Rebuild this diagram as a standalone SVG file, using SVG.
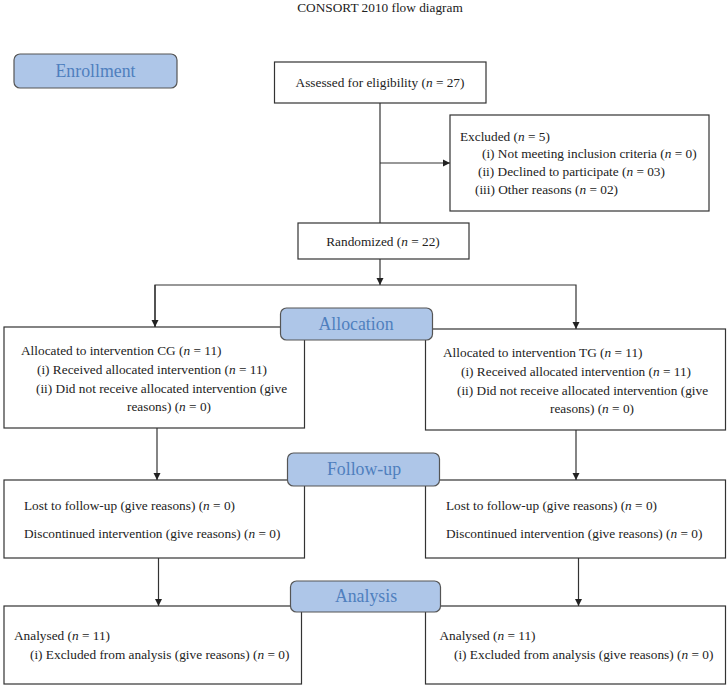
<svg xmlns="http://www.w3.org/2000/svg" width="727" height="685" viewBox="0 0 727 685">
<defs>
<marker id="ah" markerWidth="8" markerHeight="8" refX="7" refY="4" orient="auto" markerUnits="userSpaceOnUse">
<path d="M0,0.5 L7,4 L0,7.5 Z" fill="#222"/>
</marker>
<style>
.box{fill:#fff;stroke:#333;stroke-width:1.2}
.lab{fill:#aec6e8;stroke:#555;stroke-width:1.2}
.t{font-family:"Liberation Serif","Times New Roman",serif;font-size:13.3px;fill:#222}
.lt{font-family:"Liberation Serif","Times New Roman",serif;font-size:17.8px;fill:#4f7fbe;text-anchor:middle}
.c{fill:none;stroke:#333;stroke-width:1.2}
.i{font-style:italic}
</style>
</defs>
<rect width="727" height="685" fill="#fff"/>
<text class="t" x="380" y="12" text-anchor="middle" font-size="12.7">CONSORT 2010 flow diagram</text>

<g id="connectors">
<line class="c" x1="380" y1="103" x2="380" y2="223"/>
<line class="c" x1="380" y1="163" x2="450" y2="163" marker-end="url(#ah)"/>
<line class="c" x1="380" y1="259" x2="380" y2="285" marker-end="url(#ah)"/>
<polyline class="c" points="155,327 155,285 576,285 576,329" marker-end="url(#ah)"/>
<line class="c" x1="155" y1="285" x2="155" y2="327" marker-end="url(#ah)"/>
<line class="c" x1="157" y1="428" x2="157" y2="480" marker-end="url(#ah)"/>
<line class="c" x1="576" y1="430" x2="576" y2="480" marker-end="url(#ah)"/>
<line class="c" x1="158.5" y1="558" x2="158.5" y2="606" marker-end="url(#ah)"/>
<line class="c" x1="578.5" y1="558" x2="578.5" y2="606" marker-end="url(#ah)"/>
</g>

<g id="assessed">
<rect class="box" x="274.5" y="62" width="211.5" height="41"/>
<text class="t" x="380" y="87" text-anchor="middle">Assessed for eligibility (<tspan class="i">n</tspan> = 27)</text>
</g>
<g id="excluded">
<rect class="box" x="450" y="115" width="259" height="96"/>
<text class="t" x="460" y="141">Excluded (<tspan class="i">n</tspan> = 5)</text>
<text class="t" x="482" y="158">(i) Not meeting inclusion criteria (<tspan class="i">n</tspan> = 0)</text>
<text class="t" x="478" y="176">(ii) Declined to participate (<tspan class="i">n</tspan> = 03)</text>
<text class="t" x="475" y="194">(iii) Other reasons (<tspan class="i">n</tspan> = 02)</text>
</g>
<g id="randomized">
<rect class="box" x="298" y="223" width="171" height="36"/>
<text class="t" x="383" y="246" text-anchor="middle">Randomized (<tspan class="i">n</tspan> = 22)</text>
</g>
<g id="alloc-cg">
<rect class="box" x="4" y="327" width="300.5" height="101"/>
<text class="t" x="21" y="355">Allocated to intervention CG (<tspan class="i">n</tspan> = 11)</text>
<text class="t" x="37" y="374">(i) Received allocated intervention (<tspan class="i">n</tspan> = 11)</text>
<text class="t" x="36" y="393">(ii) Did not receive allocated intervention (give</text>
<text class="t" x="169" y="411" text-anchor="middle">reasons) (<tspan class="i">n</tspan> = 0)</text>
</g>
<g id="alloc-tg">
<rect class="box" x="425.5" y="329" width="300" height="101"/>
<text class="t" x="443" y="357">Allocated to intervention TG (<tspan class="i">n</tspan> = 11)</text>
<text class="t" x="461" y="376">(i) Received allocated intervention (<tspan class="i">n</tspan> = 11)</text>
<text class="t" x="457" y="395">(ii) Did not receive allocated intervention (give</text>
<text class="t" x="592" y="413" text-anchor="middle">reasons) (<tspan class="i">n</tspan> = 0)</text>
</g>
<g id="follow-cg">
<rect class="box" x="4" y="480" width="300.5" height="78"/>
<text class="t" x="24" y="510">Lost to follow-up (give reasons) (<tspan class="i">n</tspan> = 0)</text>
<text class="t" x="24" y="538">Discontinued intervention (give reasons) (<tspan class="i">n</tspan> = 0)</text>
</g>
<g id="follow-tg">
<rect class="box" x="425.5" y="480" width="300" height="78"/>
<text class="t" x="446" y="510">Lost to follow-up (give reasons) (<tspan class="i">n</tspan> = 0)</text>
<text class="t" x="446" y="538">Discontinued intervention (give reasons) (<tspan class="i">n</tspan> = 0)</text>
</g>
<g id="analysis-cg">
<rect class="box" x="4" y="606" width="297.5" height="78"/>
<text class="t" x="14" y="640">Analysed (<tspan class="i">n</tspan> = 11)</text>
<text class="t" x="30" y="659">(i) Excluded from analysis (give reasons) (<tspan class="i">n</tspan> = 0)</text>
</g>
<g id="analysis-tg">
<rect class="box" x="425.5" y="606" width="300" height="78"/>
<text class="t" x="439.5" y="640">Analysed (<tspan class="i">n</tspan> = 11)</text>
<text class="t" x="454" y="659">(i) Excluded from analysis (give reasons) (<tspan class="i">n</tspan> = 0)</text>
</g>

<g id="label-enrollment">
<rect class="lab" x="14" y="54" width="163" height="34" rx="6"/>
<text class="lt" x="95.5" y="77">Enrollment</text>
</g>
<g id="label-allocation">
<rect class="lab" x="280.5" y="308" width="152" height="32" rx="6"/>
<text class="lt" x="356" y="330">Allocation</text>
</g>
<g id="label-followup">
<rect class="lab" x="287.5" y="453" width="152" height="33" rx="6"/>
<text class="lt" x="364" y="475">Follow-up</text>
</g>
<g id="label-analysis">
<rect class="lab" x="290.5" y="581" width="150" height="31" rx="6"/>
<text class="lt" x="366" y="602">Analysis</text>
</g>
</svg>
